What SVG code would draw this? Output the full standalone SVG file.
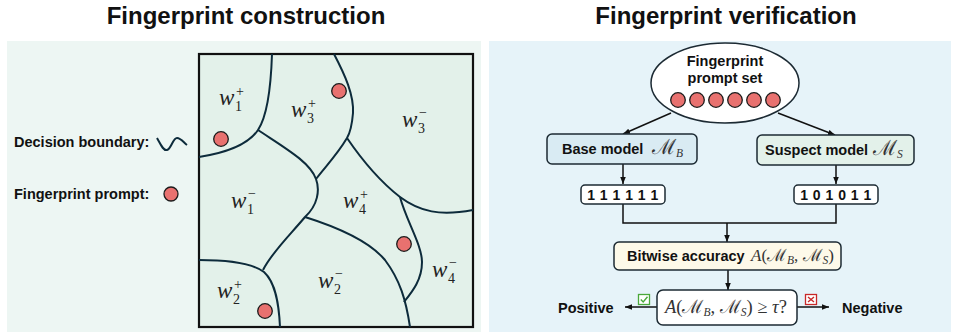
<svg xmlns="http://www.w3.org/2000/svg" width="956" height="332" viewBox="0 0 956 332">
  <defs>
    <style>
      .title { font-family: "Liberation Sans", Arial, sans-serif; font-weight: bold; font-size: 24px; fill: #111; }
      .lbl { font-family: "Liberation Sans", Arial, sans-serif; font-weight: bold; font-size: 14.5px; fill: #111; }
      .bits { font-family: "Liberation Sans", Arial, sans-serif; font-weight: bold; font-size: 14px; fill: #111; letter-spacing: 0.5px; }
      .w { font-family: "Liberation Serif", "Times New Roman", serif; font-style: italic; font-size: 23px; fill: #222; }
      .ws { font-family: "Liberation Serif", "Times New Roman", serif; font-size: 14px; fill: #222; }
      .math { font-family: "Liberation Serif", "Times New Roman", serif; font-size: 17px; fill: #333; }
      .big { font-size: 18.5px; }
      .it { font-style: italic; }
      .cal { font-family: "DejaVu Serif", serif; font-style: normal; }
      .sm { font-size: 11.5px; font-style: italic; }
      .bd { fill: none; stroke: #0d2b3b; stroke-width: 2; }
      .fp { fill: #e8716f; stroke: #1b1b1b; stroke-width: 1.3; }
      .node { stroke: #1c2a33; stroke-width: 1.5; }
      .edge { fill: none; stroke: #111; stroke-width: 1.5; }
    </style>
    <marker id="ah" viewBox="0 0 10 10" refX="10" refY="5" markerWidth="7" markerHeight="7" orient="auto" markerUnits="userSpaceOnUse">
      <path d="M0,1 L10,5 L0,9 z" fill="#111"/>
    </marker>
  </defs>

  <!-- panel backgrounds -->
  <rect x="7" y="41" width="474" height="291" fill="#edf6f3"/>
  <rect x="489" y="41" width="462" height="291" fill="#e6f3f9"/>

  <text class="title" x="246" y="24" text-anchor="middle">Fingerprint construction</text>
  <text class="title" x="726" y="24" text-anchor="middle">Fingerprint verification</text>

  <!-- legend -->
  <g id="legend">
    <text class="lbl" x="14" y="147">Decision boundary:</text>
    <path class="bd" d="M157,138 C160,143 163,151 167,150 C171,149 173,138 177,138 C181,138 184,143 187,145"/>
    <text class="lbl" x="14" y="199">Fingerprint prompt:</text>
    <circle class="fp" cx="171" cy="194" r="7"/>
  </g>

  <!-- input space with decision regions -->
  <g id="input-space">
    <rect x="199" y="54" width="274" height="273" fill="#e3f1ea" stroke="#111" stroke-width="2.2"/>
    <path class="bd" d="M272,54 C271,85 268,115 258,130 C248,145 225,153 199,157"/>
    <path class="bd" d="M258,130 C285,148 310,162 316,179 C320,190 318,205 305,217 C290,235 272,252 263,270"/>
    <path class="bd" d="M334,54 C345,75 354,95 353,113 C352,125 350,133 347,138 C337,155 325,167 316,179"/>
    <path class="bd" d="M347,138 C362,160 382,183 400,197 C420,212 440,216 473,210"/>
    <path class="bd" d="M305,217 C340,228 370,242 385,260 C400,280 406,300 410,327"/>
    <path class="bd" d="M400,197 C406,220 422,245 422,262 C422,280 412,292 404,302"/>
    <path class="bd" d="M199,260 C225,260 252,263 264,272 C276,283 279,305 280,327"/>

    <circle class="fp" cx="221" cy="139" r="7.3"/>
    <circle class="fp" cx="339" cy="91" r="7.3"/>
    <circle class="fp" cx="404" cy="244" r="7.3"/>
    <circle class="fp" cx="265" cy="311" r="7.3"/>
  </g>

  <g id="region-labels">
    <text class="w" x="219" y="105">w</text><text class="ws" x="235" y="111">1</text><text class="ws" x="236" y="96">+</text>
    <text class="w" x="291" y="117">w</text><text class="ws" x="307" y="123">3</text><text class="ws" x="308" y="108">+</text>
    <text class="w" x="402" y="127">w</text><text class="ws" x="418" y="133">3</text><text class="ws" x="419" y="117">−</text>
    <text class="w" x="231" y="208">w</text><text class="ws" x="247" y="214">1</text><text class="ws" x="248" y="198">−</text>
    <text class="w" x="343" y="208">w</text><text class="ws" x="359" y="214">4</text><text class="ws" x="360" y="199">+</text>
    <text class="w" x="432" y="277">w</text><text class="ws" x="448" y="283">4</text><text class="ws" x="449" y="267">−</text>
    <text class="w" x="318" y="288">w</text><text class="ws" x="334" y="294">2</text><text class="ws" x="335" y="278">−</text>
    <text class="w" x="217" y="298">w</text><text class="ws" x="233" y="304">2</text><text class="ws" x="234" y="289">+</text>
  </g>

  <!-- verification flow -->
  <g id="connectors">
    <path class="edge" d="M671,113 L623,134" marker-end="url(#ah)"/>
    <path class="edge" d="M778,113 L835,135" marker-end="url(#ah)"/>
    <path class="edge" d="M623,164 L623,184" marker-end="url(#ah)"/>
    <path class="edge" d="M836,165 L836,184" marker-end="url(#ah)"/>
    <path class="edge" d="M623,204 L623,223 L836,223 L836,204"/>
    <path class="edge" d="M727,223 L727,242" marker-end="url(#ah)"/>
    <path class="edge" d="M728,270 L728,290" marker-end="url(#ah)"/>
    <path class="edge" d="M657,307 L625,307" marker-end="url(#ah)"/>
    <path class="edge" d="M797,307 L829,307" marker-end="url(#ah)"/>
  </g>

  <g id="prompt-set">
    <ellipse class="node" cx="725" cy="83" rx="74" ry="40" fill="#ffffff"/>
    <text class="lbl" x="725" y="66" text-anchor="middle">Fingerprint</text>
    <text class="lbl" x="725" y="83" text-anchor="middle">prompt set</text>
    <circle class="fp" cx="678" cy="100" r="7.3"/>
    <circle class="fp" cx="697" cy="100" r="7.3"/>
    <circle class="fp" cx="716" cy="100" r="7.3"/>
    <circle class="fp" cx="735" cy="100" r="7.3"/>
    <circle class="fp" cx="754" cy="100" r="7.3"/>
    <circle class="fp" cx="773" cy="100" r="7.3"/>
  </g>

  <g id="base-model">
    <rect class="node" x="547" y="134" width="150" height="30" rx="5" fill="#d9ebf3"/>
    <text class="lbl" x="562" y="154">Base model</text>
    <text class="math" x="652" y="154"><tspan class="cal" font-size="21">ℳ</tspan><tspan class="sm" dy="3" font-size="15">B</tspan></text>
  </g>

  <g id="suspect-model">
    <rect class="node" x="757" y="135" width="157" height="30" rx="5" fill="#e3f1ea"/>
    <text class="lbl" x="765" y="155">Suspect model</text>
    <text class="math" x="873" y="155"><tspan class="cal" font-size="21">ℳ</tspan><tspan class="sm" dy="3" font-size="15">S</tspan></text>
  </g>

  <g id="bits-base">
    <rect class="node" x="581" y="185" width="84" height="19" rx="4" fill="#ffffff"/>
    <text class="bits" x="623" y="200" text-anchor="middle">1 1 1 1 1 1</text>
  </g>

  <g id="bits-suspect">
    <rect class="node" x="794" y="185" width="84" height="19" rx="4" fill="#ffffff"/>
    <text class="bits" x="836" y="200" text-anchor="middle">1 0 1 0 1 1</text>
  </g>

  <g id="bitwise-accuracy">
    <rect class="node" x="614" y="242" width="227" height="28" rx="5" fill="#fdf9e9"/>
    <text class="lbl" x="627" y="261">Bitwise accuracy</text>
    <text class="math" x="751" y="261"><tspan class="it">A</tspan>(<tspan class="cal">ℳ</tspan><tspan class="sm" dy="3">B</tspan><tspan dy="-3">, </tspan><tspan class="cal">ℳ</tspan><tspan class="sm" dy="3">S</tspan><tspan dy="-3">)</tspan></text>
  </g>

  <g id="threshold-test">
    <rect class="node" x="657" y="290" width="140" height="35" rx="6" fill="#ffffff"/>
    <text class="math big" x="665" y="313"><tspan class="it">A</tspan>(<tspan class="cal">ℳ</tspan><tspan class="sm" dy="3" font-size="12.5">B</tspan><tspan dy="-3">, </tspan><tspan class="cal">ℳ</tspan><tspan class="sm" dy="3" font-size="12.5">S</tspan><tspan dy="-3">) ≥ </tspan><tspan class="it">τ</tspan>?</text>
  </g>

  <g id="positive">
    <rect x="638.5" y="294.5" width="11" height="10" fill="#ffffff" stroke="#4aa83a" stroke-width="1.3"/>
    <path d="M640.8,299.5 L643.2,302 L647.5,296.8" fill="none" stroke="#4aa83a" stroke-width="1.4"/>
    <text class="lbl" x="558" y="313">Positive</text>
  </g>

  <g id="negative">
    <rect x="805.5" y="294.5" width="11" height="10" fill="#ffffff" stroke="#c82828" stroke-width="1.3"/>
    <path d="M808,297 L814,302 M814,297 L808,302" fill="none" stroke="#c82828" stroke-width="1.4"/>
    <text class="lbl" x="842" y="313">Negative</text>
  </g>
</svg>
